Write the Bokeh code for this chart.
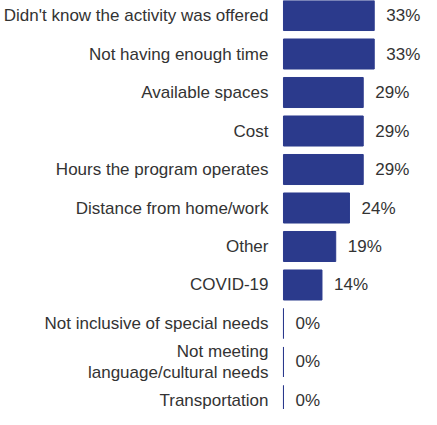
from bokeh.plotting import figure
from bokeh.models import Range1d, ColumnDataSource
from bokeh.core.properties import value
from bokeh.embed import file_html
from bokeh.resources import INLINE

categories = [
    "Didn't know the activity was offered",
    "Not having enough time",
    "Available spaces",
    "Cost",
    "Hours the program operates",
    "Distance from home/work",
    "Other",
    "COVID-19",
    "Not inclusive of special needs",
    "Not meeting\nlanguage/cultural needs",
    "Transportation",
]
values = [33, 33, 29, 29, 29, 24, 19, 14, 0, 0, 0]

rows = list(range(len(categories)))
labels = [f"{v}%" for v in values]

src = ColumnDataSource(dict(y=rows, v=values, cat=categories, lab=labels, zero=[0] * len(values)))

W, H = 421, 409
p = figure(width=W, height=H, output_backend="svg", toolbar_location=None,
           x_range=Range1d(-102.9, 50.19), y_range=Range1d(10.234, -0.390),
           min_border=0, min_border_left=0, min_border_right=0,
           min_border_top=0, min_border_bottom=0)
p.axis.visible = False
p.grid.visible = False
p.outline_line_color = None
p.background_fill_color = "white"
p.border_fill_color = "white"

bar_color = "#2b3a8c"
p.hbar(y="y", left=0, right="v", height=0.78, source=src,
       fill_color=bar_color, line_color=bar_color, line_width=1)

p.text(x="zero", y="y", text="cat", source=src, x_offset=-15,
       text_align="right", text_baseline="middle",
       text_font=value("Liberation Sans"), text_font_size="17px",
       text_color="#333333", text_line_height=1.07)

p.text(x="v", y="y", text="lab", source=src, x_offset=12,
       text_align="left", text_baseline="middle",
       text_font=value("Liberation Sans"), text_font_size="17px",
       text_color="#333333")

open("out.html", "w").write(file_html(p, INLINE))
